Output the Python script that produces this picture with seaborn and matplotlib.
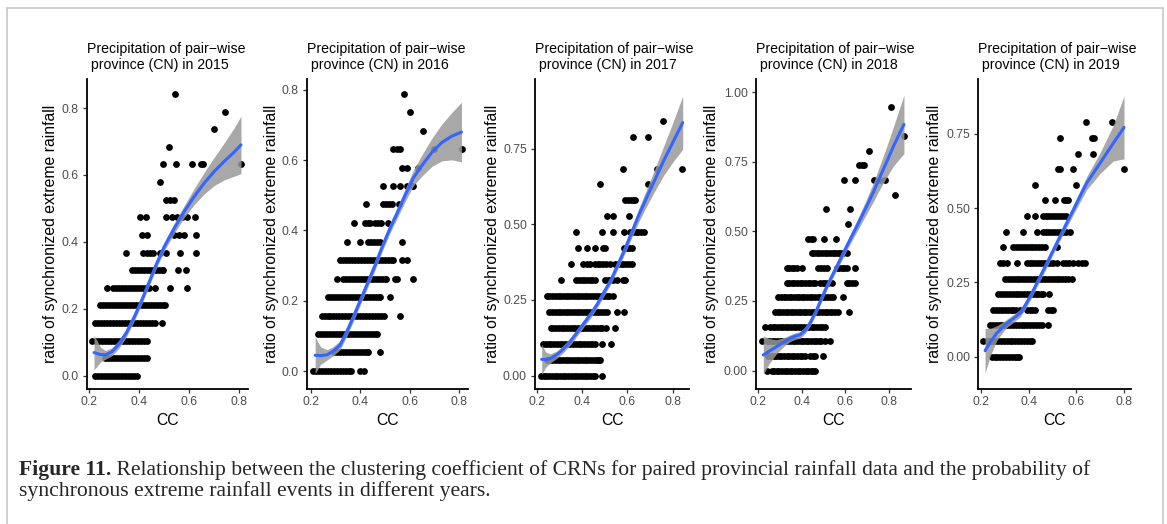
import matplotlib
matplotlib.use("Agg")
import matplotlib.pyplot as plt
from matplotlib.lines import Line2D
import seaborn as sns
import numpy as np
import pandas as pd

# ---------------- data ----------------
years = [2015, 2016, 2017, 2018, 2019]

# scatter rows: ratio level -> CC values
rows_2015 = {
    0.000: [0.223, 0.235, 0.247, 0.259, 0.271, 0.283, 0.295, 0.307, 0.319, 0.331, 0.343, 0.355, 0.367, 0.379, 0.390],
    0.053: [0.263, 0.275, 0.287, 0.299, 0.311, 0.323, 0.335, 0.347, 0.359, 0.371, 0.383, 0.395, 0.407, 0.419, 0.430],
    0.105: [0.212, 0.226, 0.238, 0.250, 0.262, 0.274, 0.286, 0.298, 0.310, 0.322, 0.334, 0.346, 0.358, 0.370, 0.382, 0.394, 0.406, 0.418, 0.430],
    0.158: [0.223, 0.235, 0.247, 0.259, 0.271, 0.283, 0.295, 0.307, 0.319, 0.331, 0.343, 0.355, 0.367, 0.379, 0.391, 0.403, 0.415, 0.427, 0.439, 0.451, 0.463, 0.490],
    0.211: [0.243, 0.255, 0.267, 0.279, 0.291, 0.303, 0.315, 0.327, 0.339, 0.351, 0.363, 0.375, 0.387, 0.399, 0.411, 0.423, 0.435, 0.447, 0.459, 0.471, 0.483, 0.495, 0.503],
    0.263: [0.270, 0.294, 0.306, 0.318, 0.330, 0.342, 0.354, 0.366, 0.378, 0.390, 0.402, 0.414, 0.426, 0.440, 0.463, 0.523, 0.593],
    0.316: [0.370, 0.382, 0.394, 0.406, 0.418, 0.430, 0.442, 0.454, 0.466, 0.478, 0.490, 0.497, 0.557, 0.588],
    0.368: [0.347, 0.417, 0.430, 0.443, 0.456, 0.483, 0.507, 0.563, 0.628],
    0.421: [0.410, 0.430, 0.541, 0.561, 0.581, 0.628],
    0.474: [0.403, 0.427, 0.507, 0.530, 0.550, 0.570, 0.590, 0.624],
    0.526: [0.507, 0.523, 0.539],
    0.579: [0.483],
    0.632: [0.497, 0.547, 0.610, 0.648, 0.657, 0.808],
    0.684: [0.520],
    0.737: [0.700],
    0.789: [0.744],
    0.842: [0.543],
}
rows_2016 = {
    0.000: [0.211, 0.223, 0.235, 0.247, 0.259, 0.271, 0.283, 0.295, 0.307, 0.319, 0.331, 0.343, 0.355, 0.362, 0.400, 0.415],
    0.053: [0.294, 0.306, 0.318, 0.330, 0.342, 0.354, 0.366, 0.378, 0.390, 0.402, 0.414, 0.426, 0.432, 0.480],
    0.105: [0.231, 0.243, 0.255, 0.267, 0.279, 0.291, 0.303, 0.315, 0.327, 0.339, 0.351, 0.363, 0.375, 0.387, 0.399, 0.411, 0.423, 0.435, 0.447, 0.459, 0.467],
    0.158: [0.244, 0.256, 0.268, 0.280, 0.292, 0.304, 0.316, 0.328, 0.340, 0.352, 0.364, 0.376, 0.388, 0.400, 0.412, 0.424, 0.436, 0.448, 0.460, 0.472, 0.484, 0.497, 0.561],
    0.211: [0.271, 0.283, 0.295, 0.307, 0.319, 0.331, 0.343, 0.355, 0.367, 0.379, 0.391, 0.403, 0.415, 0.427, 0.439, 0.451, 0.463, 0.475, 0.480, 0.521],
    0.263: [0.308, 0.332, 0.344, 0.356, 0.368, 0.380, 0.392, 0.404, 0.416, 0.428, 0.440, 0.452, 0.464, 0.476, 0.488, 0.500, 0.505, 0.541, 0.548, 0.613],
    0.316: [0.319, 0.331, 0.343, 0.355, 0.367, 0.379, 0.391, 0.403, 0.415, 0.427, 0.439, 0.451, 0.463, 0.475, 0.487, 0.499, 0.511, 0.523, 0.534, 0.568, 0.588],
    0.368: [0.346, 0.400, 0.433, 0.445, 0.457, 0.469, 0.480, 0.568],
    0.421: [0.377, 0.420, 0.432, 0.440, 0.460, 0.472, 0.483, 0.514],
    0.474: [0.424, 0.491, 0.503, 0.515, 0.530, 0.559],
    0.526: [0.494, 0.534, 0.561, 0.588, 0.608, 0.615],
    0.579: [0.568, 0.588, 0.635],
    0.632: [0.534, 0.548, 0.561, 0.699, 0.811],
    0.684: [0.653],
    0.737: [0.602],
    0.789: [0.577],
}
rows_2017 = {
    0.000: [0.219, 0.231, 0.243, 0.255, 0.267, 0.279, 0.291, 0.303, 0.315, 0.327, 0.339, 0.351, 0.363, 0.375, 0.387, 0.399, 0.411, 0.423, 0.435, 0.447, 0.457, 0.490],
    0.053: [0.244, 0.256, 0.268, 0.280, 0.292, 0.304, 0.316, 0.328, 0.340, 0.352, 0.364, 0.376, 0.388, 0.400, 0.412, 0.424, 0.436, 0.448, 0.460, 0.472, 0.479],
    0.105: [0.229, 0.241, 0.253, 0.265, 0.277, 0.289, 0.301, 0.313, 0.325, 0.337, 0.349, 0.361, 0.373, 0.385, 0.397, 0.409, 0.421, 0.433, 0.445, 0.457, 0.487, 0.526],
    0.158: [0.262, 0.274, 0.286, 0.298, 0.310, 0.322, 0.334, 0.346, 0.358, 0.370, 0.382, 0.394, 0.406, 0.418, 0.430, 0.442, 0.454, 0.466, 0.478, 0.490, 0.506, 0.546],
    0.211: [0.256, 0.268, 0.280, 0.292, 0.304, 0.316, 0.328, 0.340, 0.352, 0.364, 0.376, 0.388, 0.400, 0.412, 0.424, 0.436, 0.448, 0.460, 0.472, 0.484, 0.496, 0.512, 0.553, 0.585],
    0.263: [0.244, 0.256, 0.268, 0.280, 0.292, 0.304, 0.316, 0.328, 0.340, 0.352, 0.364, 0.376, 0.388, 0.400, 0.412, 0.424, 0.436, 0.448, 0.460, 0.472, 0.484, 0.496, 0.508, 0.520, 0.535],
    0.316: [0.306, 0.374, 0.386, 0.398, 0.410, 0.422, 0.434, 0.446, 0.457, 0.501, 0.513, 0.525, 0.537, 0.553, 0.579, 0.590],
    0.368: [0.350, 0.406, 0.420, 0.435, 0.457, 0.469, 0.481, 0.493, 0.505, 0.524, 0.546, 0.558, 0.570, 0.582, 0.594, 0.606, 0.619],
    0.421: [0.384, 0.421, 0.457, 0.491, 0.501, 0.585, 0.597, 0.609, 0.619],
    0.474: [0.372, 0.490, 0.535, 0.585, 0.612, 0.624, 0.636, 0.648, 0.660, 0.674],
    0.526: [0.509, 0.538, 0.609],
    0.579: [0.590, 0.602, 0.614, 0.624, 0.634],
    0.632: [0.479, 0.693],
    0.684: [0.579, 0.729, 0.843],
    0.789: [0.626, 0.693],
    0.842: [0.756],
}
rows_2018 = {
    0.000: [0.238, 0.261, 0.273, 0.285, 0.297, 0.309, 0.321, 0.333, 0.345, 0.357, 0.369, 0.381, 0.393, 0.405, 0.417, 0.429, 0.441, 0.452, 0.460],
    0.053: [0.246, 0.258, 0.270, 0.282, 0.294, 0.306, 0.318, 0.330, 0.342, 0.354, 0.366, 0.378, 0.390, 0.402, 0.414, 0.437, 0.449, 0.461, 0.498],
    0.105: [0.215, 0.238, 0.250, 0.262, 0.274, 0.286, 0.298, 0.310, 0.322, 0.334, 0.346, 0.358, 0.370, 0.382, 0.394, 0.406, 0.418, 0.430, 0.442, 0.454, 0.466, 0.478, 0.490, 0.506, 0.529],
    0.158: [0.230, 0.254, 0.266, 0.278, 0.290, 0.302, 0.314, 0.326, 0.338, 0.350, 0.362, 0.374, 0.386, 0.398, 0.410, 0.422, 0.434, 0.446, 0.458, 0.470, 0.482, 0.494, 0.506],
    0.211: [0.277, 0.289, 0.301, 0.313, 0.325, 0.337, 0.349, 0.361, 0.373, 0.385, 0.397, 0.409, 0.421, 0.433, 0.445, 0.457, 0.469, 0.481, 0.493, 0.505, 0.517, 0.529, 0.537, 0.552, 0.566, 0.618],
    0.263: [0.292, 0.304, 0.316, 0.328, 0.340, 0.352, 0.364, 0.376, 0.388, 0.400, 0.412, 0.424, 0.436, 0.448, 0.460, 0.472, 0.484, 0.496, 0.508, 0.520, 0.532, 0.544, 0.590],
    0.316: [0.330, 0.342, 0.354, 0.366, 0.378, 0.390, 0.402, 0.414, 0.426, 0.438, 0.450, 0.460, 0.483, 0.495, 0.507, 0.519, 0.537, 0.606, 0.618, 0.630, 0.644],
    0.368: [0.330, 0.342, 0.354, 0.366, 0.378, 0.400, 0.476, 0.488, 0.500, 0.514, 0.560, 0.572, 0.584, 0.595, 0.606, 0.644],
    0.421: [0.445, 0.457, 0.469, 0.481, 0.493, 0.505, 0.517, 0.529, 0.541, 0.553, 0.565, 0.577, 0.589, 0.606],
    0.474: [0.430, 0.441, 0.453, 0.503, 0.557],
    0.526: [0.613],
    0.579: [0.511, 0.621],
    0.632: [0.829],
    0.684: [0.593, 0.644, 0.733, 0.760, 0.782],
    0.737: [0.664, 0.676, 0.687],
    0.789: [0.708],
    0.842: [0.869],
    0.947: [0.808],
}
rows_2019 = {
    0.000: [0.245, 0.257, 0.269, 0.281, 0.293, 0.305, 0.317, 0.329, 0.341, 0.353, 0.361],
    0.053: [0.207, 0.224, 0.236, 0.248, 0.260, 0.272, 0.284, 0.296, 0.308, 0.320, 0.332, 0.344, 0.356, 0.368, 0.380, 0.392, 0.404, 0.413],
    0.105: [0.238, 0.250, 0.262, 0.274, 0.286, 0.298, 0.310, 0.322, 0.334, 0.346, 0.358, 0.370, 0.382, 0.394, 0.406, 0.418, 0.430, 0.442, 0.455, 0.483],
    0.158: [0.252, 0.264, 0.276, 0.288, 0.300, 0.312, 0.324, 0.336, 0.348, 0.364, 0.392, 0.404, 0.416, 0.427, 0.483, 0.495, 0.504],
    0.211: [0.273, 0.285, 0.297, 0.309, 0.321, 0.333, 0.345, 0.357, 0.369, 0.381, 0.393, 0.405, 0.417, 0.429, 0.441, 0.453, 0.462, 0.487],
    0.263: [0.301, 0.313, 0.325, 0.337, 0.349, 0.361, 0.373, 0.385, 0.397, 0.409, 0.421, 0.433, 0.445, 0.457, 0.469, 0.481, 0.493, 0.505, 0.517, 0.529, 0.541, 0.553, 0.565, 0.580],
    0.316: [0.280, 0.294, 0.308, 0.350, 0.392, 0.404, 0.416, 0.428, 0.440, 0.452, 0.464, 0.476, 0.488, 0.500, 0.517, 0.545, 0.558, 0.571, 0.585, 0.608, 0.622, 0.636],
    0.368: [0.294, 0.336, 0.348, 0.360, 0.372, 0.384, 0.396, 0.408, 0.420, 0.432, 0.444, 0.456, 0.469, 0.520],
    0.421: [0.305, 0.378, 0.434, 0.459, 0.471, 0.483, 0.495, 0.507, 0.519, 0.531, 0.543, 0.555, 0.573],
    0.474: [0.394, 0.427, 0.459, 0.471, 0.483, 0.495, 0.507, 0.519, 0.531, 0.543, 0.557],
    0.526: [0.469, 0.510, 0.548, 0.557, 0.566],
    0.579: [0.427, 0.597],
    0.632: [0.524, 0.531, 0.587, 0.800],
    0.684: [0.608, 0.671],
    0.737: [0.531, 0.664, 0.674],
    0.789: [0.641, 0.748],
}

# loess curves (x, fitted value, half-width of the confidence band)
fit_x_2015 = [0.219, 0.245, 0.265, 0.29, 0.32, 0.35, 0.38, 0.41, 0.44, 0.47, 0.50, 0.54, 0.58, 0.62, 0.66, 0.70, 0.74, 0.78, 0.808]
fit_y_2015 = [0.069, 0.063, 0.062, 0.071, 0.095, 0.13, 0.175, 0.225, 0.28, 0.335, 0.385, 0.44, 0.49, 0.535, 0.575, 0.61, 0.64, 0.668, 0.69]
fit_se_2015 = [0.052, 0.022, 0.013, 0.012, 0.012, 0.012, 0.012, 0.012, 0.012, 0.012, 0.013, 0.015, 0.018, 0.024, 0.032, 0.042, 0.055, 0.072, 0.086]

fit_x_2016 = [0.218, 0.24, 0.265, 0.29, 0.319, 0.346, 0.37, 0.40, 0.43, 0.46, 0.49, 0.52, 0.55, 0.58, 0.615, 0.65, 0.69, 0.73, 0.77, 0.81]
fit_y_2016 = [0.045, 0.044, 0.046, 0.056, 0.074, 0.112, 0.15, 0.20, 0.25, 0.30, 0.355, 0.405, 0.45, 0.497, 0.549, 0.585, 0.622, 0.65, 0.668, 0.68]
fit_se_2016 = [0.052, 0.025, 0.015, 0.013, 0.013, 0.013, 0.013, 0.013, 0.013, 0.013, 0.013, 0.014, 0.015, 0.018, 0.022, 0.03, 0.04, 0.052, 0.067, 0.085]

fit_x_2017 = [0.222, 0.24, 0.26, 0.29, 0.32, 0.35, 0.38, 0.41, 0.44, 0.47, 0.50, 0.53, 0.56, 0.59, 0.62, 0.65, 0.68, 0.72, 0.76, 0.80, 0.844]
fit_y_2017 = [0.054, 0.053, 0.057, 0.07, 0.09, 0.115, 0.145, 0.175, 0.205, 0.24, 0.28, 0.32, 0.37, 0.42, 0.475, 0.53, 0.58, 0.645, 0.71, 0.77, 0.836]
fit_se_2017 = [0.05, 0.025, 0.015, 0.012, 0.012, 0.012, 0.012, 0.012, 0.012, 0.012, 0.012, 0.013, 0.014, 0.015, 0.018, 0.022, 0.027, 0.036, 0.048, 0.065, 0.088]

fit_x_2018 = [0.223, 0.25, 0.284, 0.32, 0.345, 0.37, 0.391, 0.415, 0.437, 0.468, 0.49, 0.514, 0.545, 0.575, 0.605, 0.636, 0.667, 0.697, 0.73, 0.759, 0.79, 0.82, 0.845, 0.869]
fit_y_2018 = [0.056, 0.07, 0.086, 0.104, 0.116, 0.124, 0.128, 0.145, 0.17, 0.218, 0.258, 0.301, 0.35, 0.397, 0.445, 0.493, 0.541, 0.589, 0.643, 0.696, 0.75, 0.804, 0.845, 0.884]
fit_se_2018 = [0.069, 0.045, 0.025, 0.015, 0.012, 0.012, 0.012, 0.012, 0.012, 0.012, 0.012, 0.012, 0.013, 0.014, 0.015, 0.018, 0.022, 0.027, 0.034, 0.043, 0.055, 0.07, 0.088, 0.105]

fit_x_2019 = [0.217, 0.24, 0.266, 0.29, 0.308, 0.335, 0.364, 0.385, 0.406, 0.434, 0.476, 0.531, 0.587, 0.643, 0.699, 0.755, 0.8]
fit_y_2019 = [0.02, 0.05, 0.079, 0.098, 0.112, 0.128, 0.146, 0.172, 0.202, 0.247, 0.314, 0.404, 0.494, 0.584, 0.651, 0.719, 0.772]
fit_se_2019 = [0.075, 0.045, 0.025, 0.017, 0.014, 0.013, 0.013, 0.013, 0.013, 0.013, 0.013, 0.013, 0.016, 0.022, 0.035, 0.06, 0.106]

x_ticks = [0.2, 0.4, 0.6, 0.8]
x_tick_labels = ["0.2", "0.4", "0.6", "0.8"]
y_ticks_a = [0.0, 0.2, 0.4, 0.6, 0.8]
y_tick_labels_a = ["0.0", "0.2", "0.4", "0.6", "0.8"]
y_ticks_b = [0.0, 0.25, 0.5, 0.75]
y_tick_labels_b = ["0.00", "0.25", "0.50", "0.75"]
y_ticks_c = [0.0, 0.25, 0.5, 0.75, 1.0]
y_tick_labels_c = ["0.00", "0.25", "0.50", "0.75", "1.00"]

title_tpl = "Precipitation of pair\u2212wise\n province (CN) in {}"
x_label = "CC"
y_label = "ratio of synchronized extreme rainfall"
caption_bold = "Figure 11."
caption_1 = " Relationship between the clustering coefficient of CRNs for paired provincial rainfall data and the probability of"
caption_2 = "synchronous extreme rainfall events in different years."

# ---------------- layout ----------------
W, H = 1167, 524
sns.set_theme(style="white")
plt.rcParams["font.family"] = ["Liberation Sans", "DejaVu Sans"]

fig = plt.figure(figsize=(W / 100, H / 100), dpi=100)
fig.patch.set_facecolor("white")

ax_px = [(86.7, 247.7), (306.7, 468.3), (535.0, 689.3), (756.0, 910.7), (978.3, 1130.7)]
ylab_px = [50.5, 271.7, 492.0, 711.7, 934.0]
ax_top, ax_bot = 79.0, 389.0
xlims = [(0.1896, 0.835), (0.1838, 0.8377), (0.1925, 0.873), (0.1894, 0.900), (0.1887, 0.828)]
ylims = [(-0.040, 0.887), (-0.051, 0.831), (-0.044, 0.980), (-0.066, 1.047), (-0.109, 0.935)]
yt = [(y_ticks_a, y_tick_labels_a), (y_ticks_a, y_tick_labels_a), (y_ticks_b, y_tick_labels_b),
      (y_ticks_c, y_tick_labels_c), (y_ticks_b, y_tick_labels_b)]
rows_all = [rows_2015, rows_2016, rows_2017, rows_2018, rows_2019]
fits = [(fit_x_2015, fit_y_2015, fit_se_2015), (fit_x_2016, fit_y_2016, fit_se_2016),
        (fit_x_2017, fit_y_2017, fit_se_2017), (fit_x_2018, fit_y_2018, fit_se_2018),
        (fit_x_2019, fit_y_2019, fit_se_2019)]

for i, year in enumerate(years):
    l, r = ax_px[i]
    ax = fig.add_axes([l / W, 1 - ax_bot / H, (r - l) / W, (ax_bot - ax_top) / H])
    ax.set_facecolor("white")
    rows = rows_all[i]
    df = pd.DataFrame([(x, y) for y, xs in rows.items() for x in xs], columns=["cc", "ratio"])
    sns.scatterplot(data=df, x="cc", y="ratio", color="black", s=24, linewidth=0,
                    ax=ax, zorder=2, legend=False)
    fx, fy, fse = fits[i]
    fy_a = np.array(fy)
    fse_a = np.array(fse)
    ax.fill_between(fx, fy_a - fse_a, fy_a + fse_a, color="#999999", alpha=0.85,
                    linewidth=0, zorder=3)
    sns.lineplot(x=fx, y=fy, color="#3366FF", linewidth=2.2, ax=ax, zorder=4,
                 sort=False, estimator=None)
    ax.set_xlim(*xlims[i])
    ax.set_ylim(*ylims[i])
    ax.set_xticks(x_ticks)
    ax.set_xticklabels(x_tick_labels)
    ax.set_yticks(yt[i][0])
    ax.set_yticklabels(yt[i][1])
    for s in ["top", "right"]:
        ax.spines[s].set_visible(False)
    for s in ["left", "bottom"]:
        ax.spines[s].set_visible(True)
        ax.spines[s].set_color("black")
        ax.spines[s].set_linewidth(1.3)
    ax.tick_params(axis="both", direction="out", length=3.0, width=0.9, color="#333333",
                   labelsize=8.8, labelcolor="#4d4d4d")
    ax.tick_params(axis="y", pad=2.8, left=True)
    ax.tick_params(axis="x", pad=1.8, bottom=True)
    ax.grid(False)
    ax.set_xlabel(x_label, fontsize=11.3, color="black", va="center")
    ax.xaxis.set_label_coords(0.5, -(420.7 - ax_bot) / (ax_bot - ax_top))
    ax.set_ylabel(y_label, fontsize=11.3, color="black", va="center")
    ax.yaxis.set_label_coords((ylab_px[i] - l) / (r - l), 0.5)
    ax.set_title(title_tpl.format(year), loc="left", fontsize=10.2, pad=7.5,
                 linespacing=1.1, color="black")

# figure frame
fc = "#c8c8c8"
fig.add_artist(Line2D([7 / W, 7 / W], [0, 1 - 8 / H], color=fc, lw=1.2, transform=fig.transFigure))
fig.add_artist(Line2D([7 / W, 1163 / W], [1 - 8 / H, 1 - 8 / H], color=fc, lw=1.2, transform=fig.transFigure))
fig.add_artist(Line2D([1163 / W, 1163 / W], [0, 1 - 8 / H], color=fc, lw=1.2, transform=fig.transFigure))

# caption
serif = ["Liberation Serif", "DejaVu Serif"]
renderer = fig.canvas.get_renderer()
fs0 = 13.0
tb = fig.text(19 / W, 1 - 475 / H, caption_bold, family=serif, fontweight="bold", fontsize=fs0, va="baseline")
tr = fig.text(0, 1 - 475 / H, caption_1, family=serif, fontsize=fs0, va="baseline")
wb = tb.get_window_extent(renderer).width
wr = tr.get_window_extent(renderer).width
fs = fs0 * (1065.0 / (wb + wr))
tb.set_fontsize(fs)
tr.set_fontsize(fs)
wb = tb.get_window_extent(renderer).width
tr.set_x((19 + wb) / W)
fig.text(19 / W, 1 - 496 / H, caption_2, family=serif, fontsize=fs, va="baseline")

fig.savefig("out.png", dpi=100, facecolor="white")
